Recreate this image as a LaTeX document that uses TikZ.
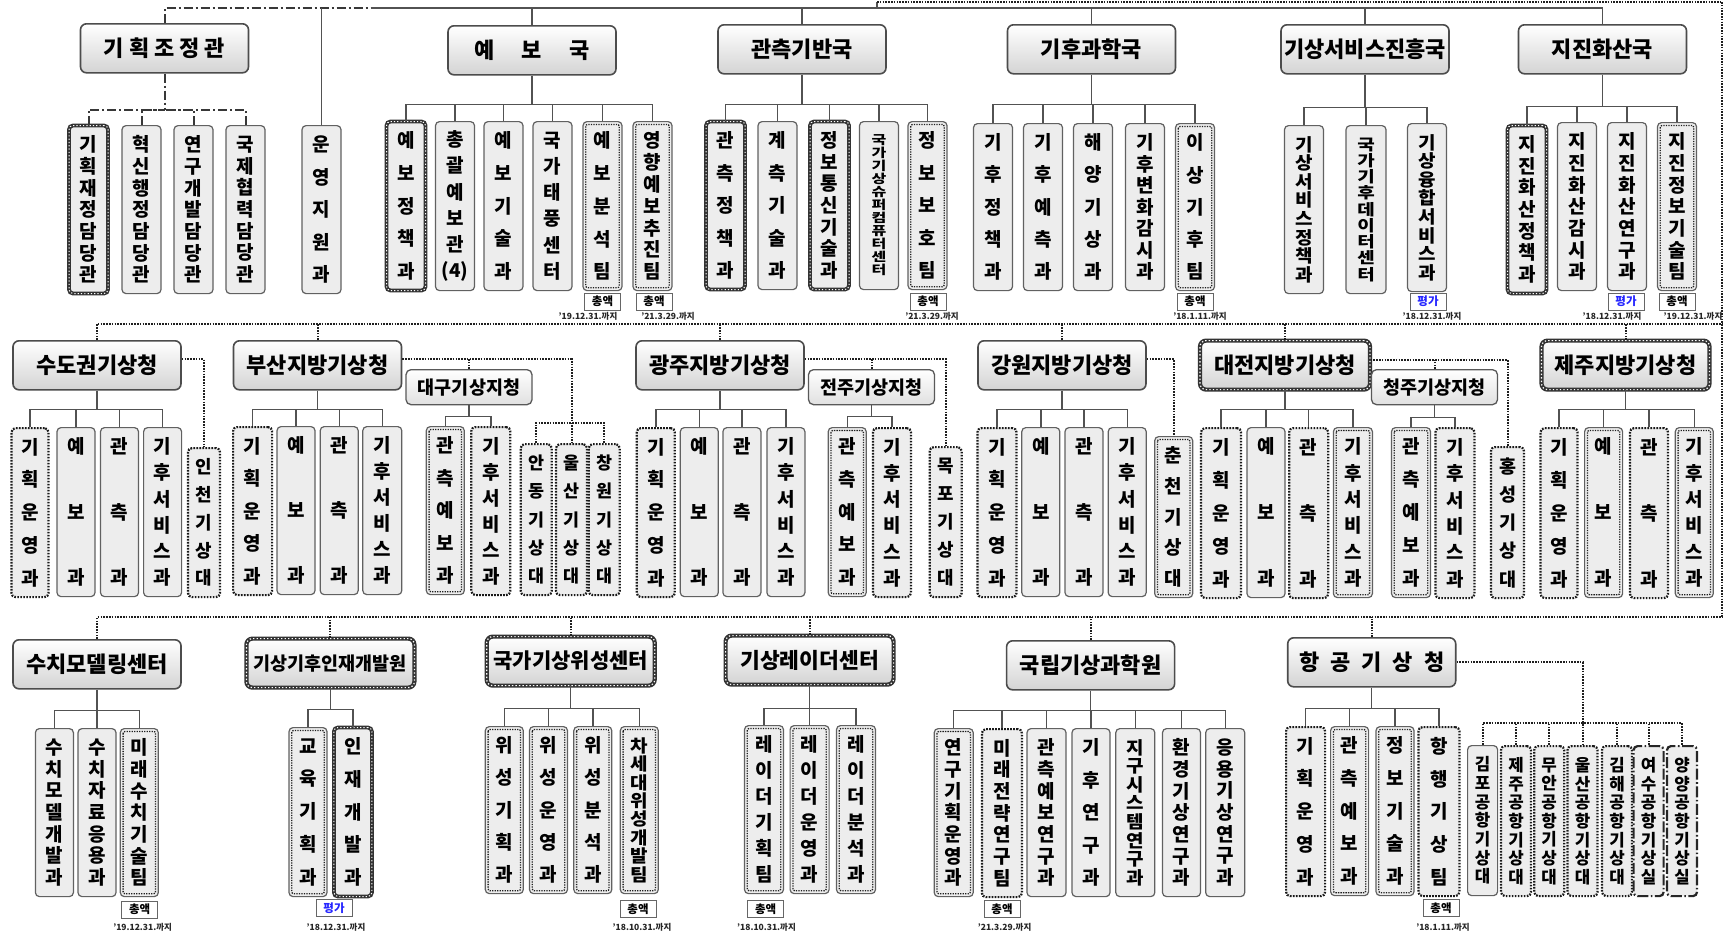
\documentclass[tikz,border=0pt]{standalone}
\usepackage{fontspec}
\setmainfont{Noto Sans CJK KR}
\newcommand{\hsp}{\hspace{5pt}}
\newcommand{\vstack}[1]{\vbox{\lineskiplimit=-30pt\let\\\cr\halign{\hfil##\hfil\cr#1\crcr}}}
% vertical unit box: [style]{name}{x}{width}{top}{bottom}{chars}{text}
\newcommand{\unitv}[8][plainu]{%
 \pgfmathsetmacro\ubs{(#6-#5-38)/(#7-1)}%
 \pgfmathsetmacro\ufs{min(19,0.95*\ubs,0.56*#4)}%
 \pgfmathsetmacro\ustr{max(1,min(1.3,min(19,0.56*#4)/\ufs))}%
 \node[#1,minimum width=#4pt,minimum height={(#6-#5)*1pt},anchor=north,
  font={\bfseries\fontsize{\ufs}{\ubs}\selectfont}] (#2) at (#3,#5) {\scalebox{\ustr}[1]{\vstack{#8}}};}
% parent to children through a bus
\newcommand{\subtree}[4][lnk]{%
 \path (#2.south) ++(0,#3) coordinate (#2-bus);
 \draw[#1] (#2.south) -- (#2-bus);
 \foreach \ch in {#4} \draw[#1] (\ch.north) |- (#2-bus);}

\begin{document}
\begin{tikzpicture}[x=1pt,y=-1pt,font=\bfseries,
 lnk/.style={draw=black!68,line width=1.4pt},
 ddlnk/.style={draw=black!78,line width=2pt,dash pattern=on 9pt off 3pt on 2pt off 3pt},
 dotlnk/.style={draw=black!88,line width=2pt,dash pattern=on 1.6pt off 1.2pt},
 hqbase/.style={rectangle,rounded corners=6pt,minimum width=168pt,minimum height=49pt,inner sep=0pt,font=\bfseries\fontsize{22}{24}\selectfont},
 hq/.style={hqbase,draw=black!70,line width=1.6pt,top color=white,bottom color=black!17},
 hqfilm/.style={hqbase,preaction={top color=white,bottom color=black!17},preaction={draw=black!80,line width=4.2pt,solid},draw=white,line width=1.2pt,dash pattern=on 1.3pt off 2.2pt},
 subhq/.style={rectangle,rounded corners=5pt,minimum width=126pt,minimum height=35pt,inner sep=0pt,draw=black!65,line width=1.3pt,top color=white,bottom color=black!12,font=\bfseries\fontsize{18.5}{20}\selectfont},
 ubase/.style={rectangle,rounded corners=4pt,inner sep=0pt},
 plainu/.style={ubase,fill=black!7,draw=black!62,line width=1.2pt},
 dotu/.style={ubase,fill=black!7,draw=black!90,line width=2.2pt,dash pattern=on 1.7pt off 1.3pt},
 filmu/.style={ubase,preaction={fill=black!7},preaction={draw=black!80,line width=3.8pt,solid},draw=white,line width=1pt,dash pattern=on 1.2pt off 2.1pt},
 innerdot/.style={draw=black!88,line width=1.3pt,dash pattern=on 1.3pt off 1.2pt,rounded corners=2pt},
 dblu/.style={plainu,path picture={\draw[innerdot] ([shift={(2.8pt,-2.8pt)}]path picture bounding box.north west) rectangle ([shift={(-2.8pt,2.8pt)}]path picture bounding box.south east);}},
 ddu/.style={ubase,fill=black!7,draw=black!85,line width=2.2pt,dash pattern=on 11pt off 2.5pt on 1.6pt off 2.5pt},
 sumtag/.style={draw=black!60,line width=0.9pt,fill=white,minimum width=36pt,minimum height=17pt,inner sep=0pt,font=\bfseries\fontsize{11.5}{12}\selectfont},
 evaltag/.style={sumtag,text=blue!85},
 datetxt/.style={font=\bfseries\fontsize{8.5}{9}\selectfont,text=black!85,inner sep=0pt}]
\fill[white] (0,0) rectangle (1729,937);
\useasboundingbox (0,0) rectangle (1729,937);

% ---- head office
\node[hq,anchor=north] (kj) at (164.5,23) {기\hsp 획\hsp 조\hsp 정\hsp 관};
\node[hq,anchor=north] (yb) at (532,25) {예\hspace{27pt}보\hspace{27pt}국};
\node[hq,anchor=north] (gc) at (802,24) {관측기반국};
\node[hq,anchor=north] (gh) at (1091.5,24) {기후과학국};
\node[hq,anchor=north] (gs) at (1365,24) {기상서비스진흥국};
\node[hq,anchor=north] (jj) at (1602.5,24) {지진화산국};

\unitv[filmu]{kj1}{88.5}{39}{125}{293}{7}{기\\획\\재\\정\\담\\당\\관}
\unitv{kj2}{141.5}{39}{125}{293}{7}{혁\\신\\행\\정\\담\\당\\관}
\unitv{kj3}{193.5}{39}{125}{293}{7}{연\\구\\개\\발\\담\\당\\관}
\unitv{kj4}{245.5}{39}{125}{293}{7}{국\\제\\협\\력\\담\\당\\관}
\unitv{uy}{321.5}{39}{125}{293}{5}{운\\영\\지\\원\\과}
\unitv[filmu]{yb1}{406}{39}{121}{290}{5}{예\\보\\정\\책\\과}
\unitv{yb2}{455}{39}{121}{290}{6}{총\\괄\\예\\보\\관\\(4)}
\unitv{yb3}{503.5}{39}{121}{290}{5}{예\\보\\기\\술\\과}
\unitv{yb4}{552.5}{39}{121}{290}{6}{국\\가\\태\\풍\\센\\터}
\unitv[dblu]{yb5}{602.5}{39}{121}{290}{5}{예\\보\\분\\석\\팀}
\unitv[dblu]{yb6}{652.5}{39}{121}{290}{7}{영\\향\\예\\보\\추\\진\\팀}
\unitv[filmu]{gc1}{725.5}{39}{121}{289}{5}{관\\측\\정\\책\\과}
\unitv{gc2}{777.5}{39}{121}{289}{5}{계\\측\\기\\술\\과}
\unitv[filmu]{gc3}{829.5}{39}{121}{289}{7}{정\\보\\통\\신\\기\\술\\과}
\unitv{gc4}{879}{39}{121}{289}{11}{국\\가\\기\\상\\슈\\퍼\\컴\\퓨\\터\\센\\터}
\unitv[dblu]{gc5}{927.5}{39}{121}{289}{5}{정\\보\\보\\호\\팀}
\unitv{gh1}{993}{39}{123}{290}{5}{기\\후\\정\\책\\과}
\unitv{gh2}{1043}{39}{123}{290}{5}{기\\후\\예\\측\\과}
\unitv{gh3}{1093}{39}{123}{290}{5}{해\\양\\기\\상\\과}
\unitv{gh4}{1145}{39}{123}{290}{7}{기\\후\\변\\화\\감\\시\\과}
\unitv[dblu]{gh5}{1195}{39}{123}{290}{5}{이\\상\\기\\후\\팀}
\unitv{gs1}{1304}{39}{125}{293}{8}{기\\상\\서\\비\\스\\정\\책\\과}
\unitv{gs2}{1366}{40}{125}{293}{9}{국\\가\\기\\후\\데\\이\\터\\센\\터}
\unitv{gs3}{1427}{39}{123}{291}{8}{기\\상\\융\\합\\서\\비\\스\\과}
\unitv[filmu]{jj1}{1527}{39}{125}{293}{7}{지\\진\\화\\산\\정\\책\\과}
\unitv{jj2}{1577}{39}{122}{290}{7}{지\\진\\화\\산\\감\\시\\과}
\unitv{jj3}{1627}{39}{122}{290}{7}{지\\진\\화\\산\\연\\구\\과}
\unitv[dblu]{jj4}{1677}{39}{122}{290}{7}{지\\진\\정\\보\\기\\술\\팀}

\subtree[ddlnk]{kj}{36}{kj1,kj2,kj3,kj4}
\subtree{yb}{29}{yb1,yb2,yb3,yb4,yb5,yb6}
\subtree{gc}{30}{gc1,gc2,gc3,gc4,gc5}
\subtree{gh}{30}{gh1,gh2,gh3,gh4,gh5}
\subtree{gs}{33}{gs1,gs2,gs3}
\subtree{jj}{32}{jj1,jj2,jj3,jj4}

\coordinate (topdd) at (371,8);
\draw[ddlnk] (kj.north) |- (topdd);
\draw[lnk] (topdd) -| (jj.north);
\foreach \hd in {yb,gc,gh,gs} \draw[lnk] (\hd.north) -- (\hd.north |- topdd);
\draw[lnk] (uy.north) -- (uy.north |- topdd);

% frame to the regional offices
\coordinate (frs) at (877,8);
\coordinate (frt) at (877,1.5);
\coordinate (frne) at (1722,1.5);
\coordinate (frse) at (1722,617.3);
\coordinate (r2e) at (1722,324);
\draw[lnk] (frs) -- (frt);
\draw[dotlnk] (frt) -- (frne) -- (frse);

\node[sumtag] (t1) at (602.5,301.5) {총액};
\node[datetxt] (d1) at (588,316.5) {'19.12.31.까지};
\node[sumtag] (t2) at (654,301.5) {총액};
\node[datetxt] (d2) at (668,316.5) {'21.3.29.까지};
\node[sumtag] (t3) at (928,301.5) {총액};
\node[datetxt] (d3) at (932,316.5) {'21.3.29.까지};
\node[sumtag] (t4) at (1195,301.5) {총액};
\node[datetxt] (d4) at (1200,316.5) {'18.1.11.까지};
\node[evaltag] (t5) at (1428,301.5) {평가};
\node[datetxt] (d5) at (1432,316.5) {'18.12.31.까지};
\node[evaltag] (t6) at (1626,301.5) {평가};
\node[datetxt] (d6) at (1612,316.5) {'18.12.31.까지};
\node[sumtag] (t7) at (1677,301.5) {총액};
\node[datetxt] (d7) at (1693,316.5) {'19.12.31.까지};

% ---- regional offices
\node[hq,anchor=north] (sd) at (97,340) {수도권기상청};
\node[hq,anchor=north] (bs) at (317.5,340) {부산지방기상청};
\node[hq,anchor=north] (gj) at (720,340) {광주지방기상청};
\node[hq,anchor=north] (gw) at (1062,340) {강원지방기상청};
\node[hqfilm,anchor=north,minimum width=170pt] (dj) at (1285,340) {대전지방기상청};
\node[hqfilm,anchor=north] (jr) at (1625.5,340) {제주지방기상청};
\node[subhq,anchor=north] (dg) at (469,369) {대구기상지청};
\node[subhq,anchor=north] (jb) at (871.5,369) {전주기상지청};
\node[subhq,anchor=north] (cj) at (1434.5,369) {청주기상지청};

\draw[dotlnk] (sd.north) |- (r2e);
\foreach \hd in {bs,gj,gw,dj,jr} \draw[dotlnk] (\hd.north) -- (\hd.north |- r2e);

\unitv[dotu]{sd1}{30}{37}{427}{596}{5}{기\\획\\운\\영\\과}
\unitv{sd2}{76}{38}{427}{596}{3}{예\\보\\과}
\unitv{sd3}{119.5}{38}{427}{596}{3}{관\\측\\과}
\unitv{sd4}{162.6}{38}{427}{596}{6}{기\\후\\서\\비\\스\\과}
\unitv[dotu]{icn}{204}{32}{447}{596}{5}{인\\천\\기\\상\\대}
\unitv[dotu]{bs1}{252.6}{39}{426}{594}{5}{기\\획\\운\\영\\과}
\unitv{bs2}{296}{38}{426}{594}{3}{예\\보\\과}
\unitv{bs3}{339.2}{38}{426}{594}{3}{관\\측\\과}
\unitv{bs4}{382.3}{39}{426}{594}{6}{기\\후\\서\\비\\스\\과}
\unitv[dblu]{dg1}{445.3}{38}{426}{594}{5}{관\\측\\예\\보\\과}
\unitv[dotu]{dg2}{490.8}{39}{426}{594}{6}{기\\후\\서\\비\\스\\과}
\unitv[dotu]{ad}{536.2}{31}{443}{594}{5}{안\\동\\기\\상\\대}
\unitv[dotu]{us}{571.5}{31}{443}{594}{5}{울\\산\\기\\상\\대}
\unitv[dotu]{cw}{604.2}{31}{443}{594}{5}{창\\원\\기\\상\\대}
\unitv[dotu]{gj1}{655.8}{38}{427}{596}{5}{기\\획\\운\\영\\과}
\unitv{gj2}{699.3}{38}{427}{596}{3}{예\\보\\과}
\unitv{gj3}{741.9}{38}{427}{596}{3}{관\\측\\과}
\unitv{gj4}{785.9}{38}{427}{596}{6}{기\\후\\서\\비\\스\\과}
\unitv[dblu]{jb1}{847.2}{38}{427}{596}{5}{관\\측\\예\\보\\과}
\unitv[dotu]{jb2}{891.9}{38}{427}{596}{6}{기\\후\\서\\비\\스\\과}
\unitv[dotu]{mp}{945.7}{32}{446}{596}{5}{목\\포\\기\\상\\대}
\unitv[dotu]{gw1}{997}{39}{427}{596}{5}{기\\획\\운\\영\\과}
\unitv{gw2}{1040.8}{38}{427}{596}{3}{예\\보\\과}
\unitv{gw3}{1084}{38}{427}{596}{3}{관\\측\\과}
\unitv{gw4}{1127.2}{38}{427}{596}{6}{기\\후\\서\\비\\스\\과}
\unitv[dblu]{cc}{1173.7}{38}{436}{597}{5}{춘\\천\\기\\상\\대}
\unitv[dotu]{dj1}{1221}{40}{427}{597}{5}{기\\획\\운\\영\\과}
\unitv{dj2}{1266}{38}{427}{597}{3}{예\\보\\과}
\unitv[dotu]{dj3}{1308.7}{39}{427}{597}{3}{관\\측\\과}
\unitv[dblu]{dj4}{1352.9}{39}{427}{597}{6}{기\\후\\서\\비\\스\\과}
\unitv[dblu]{cj1}{1411}{39}{427}{597}{5}{관\\측\\예\\보\\과}
\unitv[dotu]{cj2}{1455}{39}{427}{597}{6}{기\\후\\서\\비\\스\\과}
\unitv[dotu]{hs}{1507.5}{33}{446}{597}{5}{홍\\성\\기\\상\\대}
\unitv[dotu]{jr1}{1559}{37}{427}{597}{5}{기\\획\\운\\영\\과}
\unitv[dblu]{jr2}{1603.6}{38}{427}{597}{3}{예\\보\\과}
\unitv[dotu]{jr3}{1649}{38}{427}{597}{3}{관\\측\\과}
\unitv[dblu]{jr4}{1694.3}{38}{427}{597}{6}{기\\후\\서\\비\\스\\과}

\subtree{sd}{19}{sd1,sd2,sd3,sd4}
\subtree{bs}{19}{bs1,bs2,bs3,bs4}
\subtree{gj}{19}{gj1,gj2,gj3,gj4}
\subtree{gw}{19}{gw1,gw2,gw3,gw4}
\subtree{dj}{19}{dj1,dj2,dj3,dj4}
\subtree{jr}{19}{jr1,jr2,jr3,jr4}
\subtree{dg}{11}{dg1,dg2}
\subtree{jb}{11}{jb1,jb2}
\subtree{cj}{12}{cj1,cj2}

\coordinate (sdr) at ([yshift=6pt]sd.east);
\draw[dotlnk] (sdr) -| (icn.north);
\coordinate (bsr) at ([yshift=6pt]bs.east);
\draw[dotlnk] (bsr) -| (us.north);
\draw[dotlnk] (dg.north) -- (dg.north |- bsr);
\coordinate (bsb) at (571.5,423);
\draw[dotlnk] (ad.north) |- (bsb) -| (cw.north);
\coordinate (gjr) at ([yshift=6pt]gj.east);
\draw[dotlnk] (gjr) -| (mp.north);
\draw[dotlnk] (jb.north) -- (jb.north |- gjr);
\coordinate (gwr) at ([yshift=6pt]gw.east);
\draw[dotlnk] (gwr) -| (cc.north);
\coordinate (djr) at ([yshift=5pt]dj.east);
\draw[dotlnk] (djr) -| (hs.north);
\draw[dotlnk] (cj.north) -- (cj.north |- djr);

% ---- affiliated agencies
\node[hq,anchor=north] (nm) at (97,639) {수치모델링센터};
\node[hqfilm,anchor=north,font=\bfseries\fontsize{18.5}{20}\selectfont] (hr) at (330.4,638) {기상기후인재개발원};
\node[hqfilm,anchor=north,font=\bfseries\fontsize{21}{23}\selectfont] (st) at (570.7,636) {국가기상위성센터};
\node[hqfilm,anchor=north,font=\bfseries\fontsize{21.5}{23}\selectfont] (rd) at (809.6,635) {기상레이더센터};
\node[hq,anchor=north,font=\bfseries\fontsize{22}{24}\selectfont] (ni) at (1090.6,640) {국립기상과학원};
\node[hq,anchor=north] (av) at (1371.7,637) {항\hspace{11pt}공\hspace{11pt}기\hspace{11pt}상\hspace{11pt}청};

\draw[dotlnk] (nm.north) |- (frse);
\foreach \hd in {hr,st,rd,ni,av} \draw[dotlnk] (\hd.north) -- (\hd.north |- frse);

\unitv{nm1}{54.4}{38}{728}{896}{7}{수\\치\\모\\델\\개\\발\\과}
\unitv{nm2}{97}{38}{728}{896}{7}{수\\치\\자\\료\\응\\용\\과}
\unitv[dblu]{nm3}{139.3}{38}{728}{896}{7}{미\\래\\수\\치\\기\\술\\팀}
\unitv[dblu]{hr1}{308}{38}{727}{896}{5}{교\\육\\기\\획\\과}
\unitv[filmu]{hr2}{352.9}{38}{727}{896}{5}{인\\재\\개\\발\\과}
\unitv[dblu]{st1}{504.3}{38}{726}{893}{5}{위\\성\\기\\획\\과}
\unitv[dblu]{st2}{548.5}{38}{726}{893}{5}{위\\성\\운\\영\\과}
\unitv[dblu]{st3}{592.8}{38}{726}{893}{5}{위\\성\\분\\석\\과}
\unitv[dblu]{st4}{639.3}{38}{726}{893}{8}{차\\세\\대\\위\\성\\개\\발\\팀}
\unitv[dblu]{rd1}{764}{39}{725}{893}{6}{레\\이\\더\\기\\획\\팀}
\unitv[dblu]{rd2}{809.6}{39}{725}{893}{6}{레\\이\\더\\운\\영\\과}
\unitv[dblu]{rd3}{856}{39}{725}{893}{6}{레\\이\\더\\분\\석\\과}
\unitv[dblu]{ni1}{953.7}{39}{728}{896}{7}{연\\구\\기\\획\\운\\영\\과}
\unitv[dotu]{ni2}{1001.9}{40}{728}{896}{7}{미\\래\\전\\략\\연\\구\\팀}
\unitv{ni3}{1046.5}{39}{728}{896}{7}{관\\측\\예\\보\\연\\구\\과}
\unitv{ni4}{1091}{38}{728}{896}{5}{기\\후\\연\\구\\과}
\unitv{ni5}{1135.3}{39}{728}{896}{8}{지\\구\\시\\스\\템\\연\\구\\과}
\unitv{ni6}{1181.5}{38}{728}{896}{7}{환\\경\\기\\상\\연\\구\\과}
\unitv{ni7}{1225.2}{39}{728}{896}{7}{응\\용\\기\\상\\연\\구\\과}
\unitv[dotu]{av1}{1305.6}{39}{726}{895}{5}{기\\획\\운\\영\\과}
\unitv[dblu]{av2}{1349.6}{38}{726}{895}{5}{관\\측\\예\\보\\과}
\unitv[dblu]{av3}{1395}{38}{726}{895}{5}{정\\보\\기\\술\\과}
\unitv[dotu]{av4}{1438.9}{41}{726}{895}{5}{항\\행\\기\\상\\팀}
\unitv{ap1}{1482.6}{30}{745}{895}{7}{김\\포\\공\\항\\기\\상\\대}
\unitv[dotu]{ap2}{1516}{30}{745}{895}{7}{제\\주\\공\\항\\기\\상\\대}
\unitv[dotu]{ap3}{1549.2}{30}{745}{895}{7}{무\\안\\공\\항\\기\\상\\대}
\unitv[dotu]{ap4}{1582.5}{30}{745}{895}{7}{울\\산\\공\\항\\기\\상\\대}
\unitv[dotu]{ap5}{1617}{30}{745}{895}{7}{김\\해\\공\\항\\기\\상\\대}
\unitv[ddu]{ap6}{1648.6}{30}{745}{895}{7}{여\\수\\공\\항\\기\\상\\실}
\unitv[ddu]{ap7}{1682}{30}{745}{895}{7}{양\\양\\공\\항\\기\\상\\실}

\subtree{nm}{21}{nm1,nm2,nm3}
\subtree{hr}{21}{hr1,hr2}
\subtree{st}{22}{st1,st2,st3,st4}
\subtree{rd}{23}{rd1,rd2,rd3}
\subtree{ni}{20}{ni1,ni2,ni3,ni4,ni5,ni6,ni7}
\subtree{av}{21}{av1,av2,av3,av4}

\draw[dotlnk] (av.east) -| (ap4.north);
\coordinate (apb) at (1582.5,723.3);
\draw[dotlnk] (ap1.north) |- (apb) -| (ap7.north);
\foreach \ap in {ap2,ap3,ap5,ap6} \draw[dotlnk] (\ap.north) -- (\ap.north |- apb);

\node[sumtag] (t8) at (139.7,909.5) {총액};
\node[datetxt] (d8) at (142.6,927) {'19.12.31.까지};
\node[evaltag] (t9) at (334,908) {평가};
\node[datetxt] (d9) at (336,927) {'18.12.31.까지};
\node[sumtag] (t10) at (638,909) {총액};
\node[datetxt] (d10) at (642,927) {'18.10.31.까지};
\node[sumtag] (t11) at (765.6,909) {총액};
\node[datetxt] (d11) at (766.5,927) {'18.10.31.까지};
\node[sumtag] (t12) at (1002,909) {총액};
\node[datetxt] (d12) at (1004.6,927) {'21.3.29.까지};
\node[sumtag] (t13) at (1441,908) {총액};
\node[datetxt] (d13) at (1443,927) {'18.1.11.까지};
\end{tikzpicture}
\end{document}
